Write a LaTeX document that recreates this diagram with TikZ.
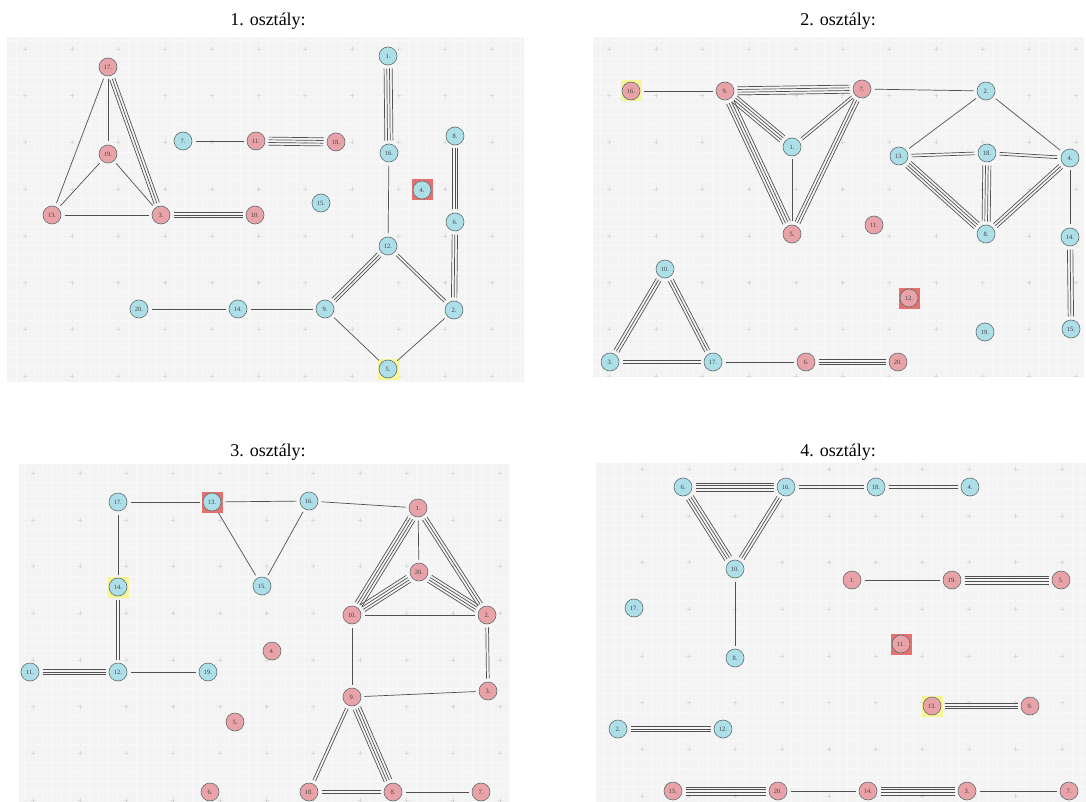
\documentclass[tikz,border=0pt]{standalone}
\usepackage{fontspec}
\setmainfont{Liberation Serif}
\usetikzlibrary{calc}
\definecolor{nblue}{RGB}{173,223,232}
\definecolor{npink}{RGB}{233,163,168}
\definecolor{nborder}{RGB}{95,108,110}
\definecolor{hred}{RGB}{228,112,112}
\definecolor{hyel}{RGB}{246,246,150}
\definecolor{panelbg}{RGB}{244,244,244}
\definecolor{edgec}{RGB}{80,80,80}
\tikzset{
  nd/.style={circle, draw=nborder, line width=0.6pt, minimum size=18pt, inner sep=0pt,
    font=\fontsize{6.5}{7}\selectfont, text=black!75},
  bn/.style={nd, fill=nblue},
  pn/.style={nd, fill=npink},
  hlr/.style={rectangle, fill=hred, minimum size=21pt, inner sep=0pt},
  hly/.style={rectangle, fill=hyel, minimum size=21pt, inner sep=0pt},
  edge/.style={draw=edgec, line width=0.7pt, shorten <=12.5pt, shorten >=12.5pt},
  ttl/.style={font=\fontsize{18}{21}\selectfont},
  gridmaj/.style={draw=black!5, line width=0.4pt},
  gridmin/.style={draw=black!2.5, line width=0.3pt},
  crossl/.style={draw=black!15, line width=0.4pt}
}
\newcommand{\medge}[3]{%
  \foreach \kk in {1,...,#1}{%
    \pgfmathsetmacro{\myoff}{(\kk-(#1+1)/2)*2.7}%
    \draw[edge] ($(#2.center)!\myoff pt!90:(#3.center)$) -- ($(#3.center)!\myoff pt!-90:(#2.center)$);
  }}
\newcommand{\panelbox}[6]{%
  \fill[panelbg] (#1,#2) rectangle (#3,#4);
  \begin{scope}
    \clip (#1,#2) rectangle (#3,#4);
    \foreach \gx in {-5,...,60}{\draw[gridmin] ({#5+\gx*9.34},#2) -- ({#5+\gx*9.34},#4);}
    \foreach \gy in {-5,...,40}{\draw[gridmin] (#1,{#6+\gy*9.34}) -- (#3,{#6+\gy*9.34});}
    \foreach \gx in {-1,...,11}{\draw[gridmaj] ({#5+\gx*46.7},#2) -- ({#5+\gx*46.7},#4);}
    \foreach \gy in {-1,...,8}{\draw[gridmaj] (#1,{#6+\gy*46.7}) -- (#3,{#6+\gy*46.7});}
    \foreach \gx in {0,...,11}{\foreach \gy in {0,...,7}{%
      \draw[crossl] ({#5+\gx*46.7-2},{#6+\gy*46.7}) -- ++(4,0)
                    ({#5+\gx*46.7},{#6+\gy*46.7-2}) -- ++(0,4);}}
  \end{scope}}
\begin{document}
\begin{tikzpicture}[x=1pt,y=-1pt]
\fill[white] (0,0) rectangle (1086,802);
\useasboundingbox (0,0) rectangle (1086,802);
% panels
\panelbox{7}{37}{524}{382}{25}{49}
\panelbox{593}{37}{1084}{376}{609}{49}
\panelbox{19}{464}{510}{802}{33}{473}
\panelbox{596}{463}{1086}{802}{642}{469}
% titles
\node[ttl] (t1) at (268,21) {1. osztály:};
\node[ttl] (t2) at (838,21) {2. osztály:};
\node[ttl] (t3) at (268,452) {3. osztály:};
\node[ttl] (t4) at (838,452) {4. osztály:};
% highlights
\node[hlr] (ha4) at (422,190) {};
\node[hly] (ha5) at (388,369) {};
\node[hly] (hb16) at (631,91) {};
\node[hlr] (hb12) at (909,298) {};
\node[hlr] (hc13) at (212,502) {};
\node[hly] (hc14) at (118,587) {};
\node[hlr] (hd11) at (901,644) {};
\node[hly] (hd13) at (932,706) {};
% ---------- panel 1
\node[pn] (a17) at (108,67) {17.};
\node[pn] (a19) at (108,154) {19.};
\node[pn] (a13) at (52,215) {13.};
\node[pn] (a3) at (161,215) {3.};
\node[pn] (a10) at (255,215) {10.};
\node[bn] (a7) at (183,141) {7.};
\node[pn] (a11) at (256,141) {11.};
\node[pn] (a18) at (336,142) {18.};
\node[bn] (a1) at (388,56) {1.};
\node[bn] (a16) at (389,153) {16.};
\node[bn] (a8) at (455,136) {8.};
\node[bn] (a4) at (422,190) {4.};
\node[bn] (a15) at (321,203) {15.};
\node[bn] (a6) at (455,222) {6.};
\node[bn] (a12) at (388,246) {12.};
\node[bn] (a9) at (325,309) {9.};
\node[bn] (a2) at (454,310) {2.};
\node[bn] (a5) at (388,369) {5.};
\node[bn] (a20) at (139,309) {20.};
\node[bn] (a14) at (238,309) {14.};
\medge{1}{a17}{a13}
\medge{1}{a17}{a19}
\medge{3}{a17}{a3}
\medge{1}{a19}{a13}
\medge{1}{a19}{a3}
\medge{1}{a13}{a3}
\medge{3}{a3}{a10}
\medge{1}{a7}{a11}
\medge{4}{a11}{a18}
\medge{4}{a1}{a16}
\medge{1}{a16}{a12}
\medge{3}{a8}{a6}
\medge{3}{a6}{a2}
\medge{3}{a12}{a9}
\medge{2}{a12}{a2}
\medge{1}{a9}{a5}
\medge{1}{a5}{a2}
\medge{1}{a20}{a14}
\medge{1}{a14}{a9}
% ---------- panel 2
\node[pn] (b16) at (631,91) {16.};
\node[pn] (b9) at (725,91) {9.};
\node[pn] (b7) at (862,89) {7.};
\node[bn] (b1) at (792,147) {1.};
\node[pn] (b5) at (792,234) {5.};
\node[bn] (b2) at (986,91) {2.};
\node[bn] (b13) at (899,156) {13.};
\node[bn] (b18) at (987,153) {18.};
\node[bn] (b4) at (1070,158) {4.};
\node[pn] (b11) at (874,225) {11.};
\node[bn] (b8) at (986,234) {8.};
\node[bn] (b14) at (1070,237) {14.};
\node[bn] (b15) at (1071,329) {15.};
\node[bn] (b19) at (985,332) {19.};
\node[pn] (b12) at (909,298) {12.};
\node[bn] (b10) at (665,269) {10.};
\node[bn] (b3) at (610,362) {3.};
\node[bn] (b17) at (713,362) {17.};
\node[pn] (b6) at (806,362) {6.};
\node[pn] (b20) at (898,362) {20.};
\medge{1}{b16}{b9}
\medge{4}{b9}{b7}
\medge{4}{b9}{b1}
\medge{4}{b9}{b5}
\medge{2}{b7}{b1}
\medge{3}{b7}{b5}
\medge{1}{b1}{b5}
\medge{1}{b7}{b2}
\medge{1}{b2}{b13}
\medge{1}{b2}{b4}
\medge{2}{b13}{b18}
\medge{2}{b18}{b4}
\medge{4}{b13}{b8}
\medge{4}{b18}{b8}
\medge{3}{b4}{b8}
\medge{1}{b4}{b14}
\medge{3}{b14}{b15}
\medge{3}{b10}{b3}
\medge{3}{b10}{b17}
\medge{2}{b3}{b17}
\medge{1}{b17}{b6}
\medge{3}{b6}{b20}
% ---------- panel 3
\node[bn] (c17) at (118,502) {17.};
\node[bn] (c13) at (212,502) {13.};
\node[bn] (c16) at (309,501) {16.};
\node[bn] (c15) at (262,586) {15.};
\node[pn] (c1) at (418,508) {1.};
\node[pn] (c20) at (419,572) {20.};
\node[pn] (c10) at (352,615) {10.};
\node[pn] (c2) at (487,615) {2.};
\node[bn] (c14) at (118,587) {14.};
\node[bn] (c12) at (118,672) {12.};
\node[bn] (c11) at (30,672) {11.};
\node[bn] (c19) at (208,672) {19.};
\node[pn] (c4) at (272,651) {4.};
\node[pn] (c9) at (352,697) {9.};
\node[pn] (c3) at (488,691) {3.};
\node[pn] (c5) at (235,722) {5.};
\node[pn] (c6) at (210,792) {6.};
\node[pn] (c18) at (309,792) {18.};
\node[pn] (c8) at (393,792) {8.};
\node[pn] (c7) at (481,792) {7.};
\medge{1}{c17}{c13}
\medge{1}{c13}{c16}
\medge{1}{c13}{c15}
\medge{1}{c16}{c15}
\medge{1}{c16}{c1}
\medge{1}{c17}{c14}
\medge{2}{c14}{c12}
\medge{3}{c11}{c12}
\medge{1}{c12}{c19}
\medge{4}{c1}{c10}
\medge{1}{c1}{c20}
\medge{3}{c1}{c2}
\medge{4}{c20}{c10}
\medge{4}{c20}{c2}
\medge{1}{c10}{c2}
\medge{1}{c10}{c9}
\medge{2}{c2}{c3}
\medge{1}{c9}{c3}
\medge{2}{c9}{c18}
\medge{4}{c9}{c8}
\medge{2}{c18}{c8}
\medge{1}{c8}{c7}
% ---------- panel 4
\node[bn] (d6) at (683,487) {6.};
\node[bn] (d16) at (786,487) {16.};
\node[bn] (d18) at (876,487) {18.};
\node[bn] (d4) at (970,487) {4.};
\node[bn] (d10) at (735,569) {10.};
\node[pn] (d1) at (852,580) {1.};
\node[pn] (d19) at (952,580) {19.};
\node[pn] (d5) at (1061,580) {5.};
\node[bn] (d17) at (634,608) {17.};
\node[bn] (d8) at (735,658) {8.};
\node[pn] (d11) at (901,644) {11.};
\node[pn] (d13) at (932,706) {13.};
\node[pn] (d9) at (1030,706) {9.};
\node[bn] (d2) at (618,729) {2.};
\node[bn] (d12) at (723,729) {12.};
\node[pn] (d15) at (673,791) {15.};
\node[pn] (d20) at (778,791) {20.};
\node[pn] (d14) at (868,791) {14.};
\node[pn] (d3) at (967,791) {3.};
\node[pn] (d7) at (1069,791) {7.};
\medge{4}{d6}{d16}
\medge{2}{d16}{d18}
\medge{2}{d18}{d4}
\medge{4}{d6}{d10}
\medge{3}{d16}{d10}
\medge{1}{d10}{d8}
\medge{1}{d1}{d19}
\medge{4}{d19}{d5}
\medge{3}{d13}{d9}
\medge{3}{d2}{d12}
\medge{4}{d15}{d20}
\medge{1}{d20}{d14}
\medge{4}{d14}{d3}
\medge{1}{d3}{d7}
\end{tikzpicture}
\end{document}
